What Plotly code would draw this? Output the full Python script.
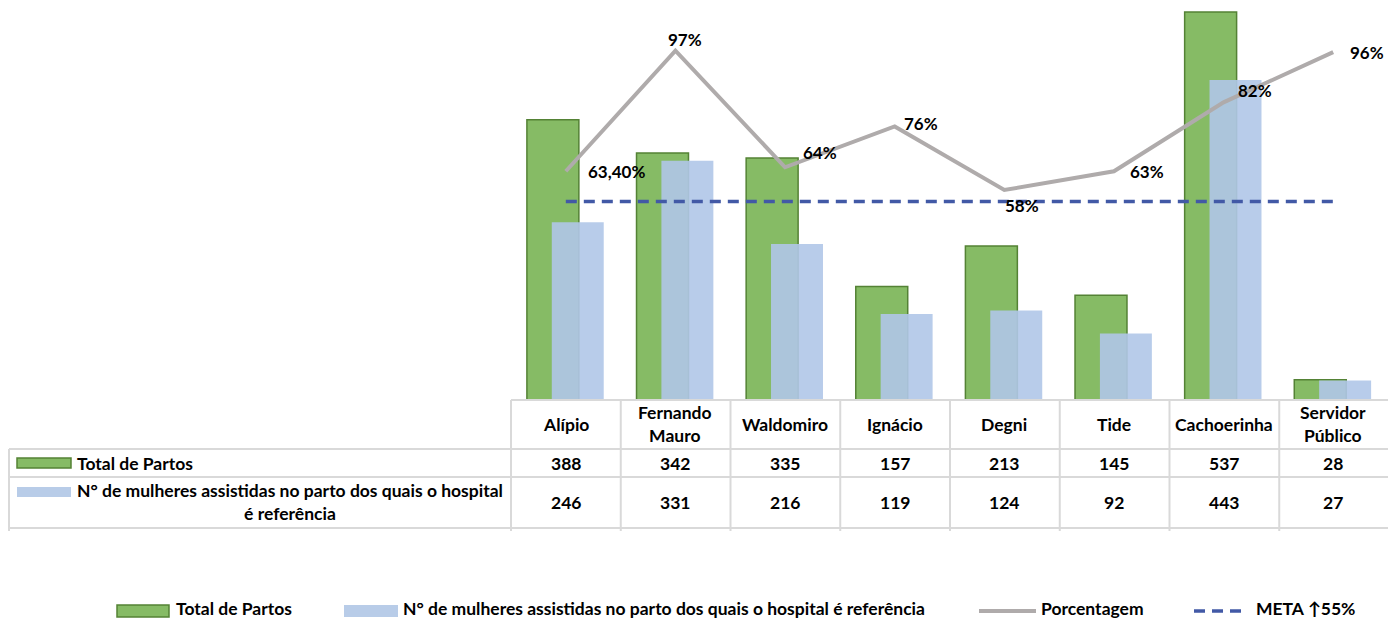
import plotly.graph_objects as go

# ---------------- data ----------------
categories = ["Alípio", "Fernando Mauro", "Waldomiro", "Ignácio", "Degni", "Tide",
              "Cachoerinha", "Servidor Público"]
header_labels = ["Alípio", "Fernando<br>Mauro", "Waldomiro", "Ignácio", "Degni", "Tide",
                 "Cachoerinha", "Servidor<br>Público"]
total_partos = [388, 342, 335, 157, 213, 145, 537, 28]
mulheres_ref = [246, 331, 216, 119, 124, 92, 443, 27]
porcentagem = [0.634, 0.968, 0.645, 0.758, 0.582, 0.634, 0.825, 0.964]
porcentagem_labels = ["63,40%", "97%", "64%", "76%", "58%", "63%", "82%", "96%"]
meta = [0.55] * 8

name_total = "Total de Partos"
name_mulheres = "N° de mulheres assistidas no parto dos quais o hospital é referência"
name_pct = "Porcentagem"
name_meta = "META ↑55%"

# ---------------- styles ----------------
W, H = 1388, 620
GREEN = "rgb(134,187,101)"
GREEN_LINE = "rgb(84,130,53)"
BLUE = "rgba(176,199,232,0.9)"
BLUE_SOLID = "rgb(184,204,232)"
GRAY = "#AFABAB"
META_COLOR = "#4259A6"
GRID = "#D9D9D9"
FONT = "Lato"
FS = 17.5
FS_LAB = 17

PLOT_L, PLOT_R, PLOT_B = 511, 1389, 400


def px(x):
    return x / W


def py(y):
    return 1 - y / H


def bold(size=FS):
    return dict(family=FONT, size=size, color="black", weight="bold")


fig = go.Figure()

fig.add_trace(go.Bar(
    x=list(range(len(categories))), y=total_partos, name=name_total,
    marker=dict(color=GREEN, line=dict(color=GREEN_LINE, width=1.5)),
    width=0.474, offset=-0.355, showlegend=False, hoverinfo="y",
))
fig.add_trace(go.Bar(
    x=list(range(len(categories))), y=mulheres_ref, name=name_mulheres,
    marker=dict(color=BLUE, line=dict(width=0)),
    width=0.474, offset=-0.128, showlegend=False, hoverinfo="y",
))
fig.add_trace(go.Scatter(
    x=list(range(len(categories))), y=porcentagem, name=name_pct, yaxis="y2",
    mode="lines", line=dict(color=GRAY, width=4), showlegend=False,
))
fig.add_trace(go.Scatter(
    x=list(range(len(categories))), y=meta, name=name_meta, yaxis="y2",
    mode="lines", line=dict(color=META_COLOR, width=3.5, dash="11px,7px"),
    showlegend=False,
))

# data labels for the percentage line
label_shift = [(51, 0), (10, 11), (35, 15), (26, 3), (18, -15), (33, 0), (31, 12), (34, 0)]
annotations = []
for i, (lab, val) in enumerate(zip(porcentagem_labels, porcentagem)):
    dx, dy = label_shift[i]
    annotations.append(dict(
        x=i, y=val, xref="x", yref="y2", text=lab, showarrow=False,
        xshift=dx, yshift=dy, font=bold(FS_LAB),
    ))

# ---------------- data table ----------------
shapes = []
row_lines = [449, 477, 528]
col_lines = [511 + i * (PLOT_R - PLOT_L) / 8 for i in range(8)]
shapes.append(dict(type="line", xref="paper", yref="paper",
                   x0=px(PLOT_L), x1=1, y0=py(400), y1=py(400),
                   line=dict(color=GRID, width=2)))
for yl in row_lines:
    shapes.append(dict(type="line", xref="paper", yref="paper",
                       x0=px(9), x1=1, y0=py(yl), y1=py(yl),
                       line=dict(color=GRID, width=2)))
for xl in col_lines:
    shapes.append(dict(type="line", xref="paper", yref="paper",
                       x0=px(xl), x1=px(xl), y0=py(400), y1=py(531),
                       line=dict(color=GRID, width=2)))
shapes.append(dict(type="line", xref="paper", yref="paper",
                   x0=px(9), x1=px(9), y0=py(449), y1=py(531),
                   line=dict(color=GRID, width=2)))

for i, hl in enumerate(header_labels):
    annotations.append(dict(x=i, y=py(424), xref="x", yref="paper", text=hl,
                            showarrow=False, yanchor="middle", font=bold()))
for i, (a, b) in enumerate(zip(total_partos, mulheres_ref)):
    annotations.append(dict(x=i, y=py(463), xref="x", yref="paper", text=str(a),
                            showarrow=False, yanchor="middle", font=bold()))
    annotations.append(dict(x=i, y=py(502), xref="x", yref="paper", text=str(b),
                            showarrow=False, yanchor="middle", font=bold()))

# row headers with keys
shapes.append(dict(type="rect", xref="paper", yref="paper",
                   x0=px(17), x1=px(71), y0=py(468), y1=py(458),
                   fillcolor=GREEN, line=dict(color=GREEN_LINE, width=1.5)))
shapes.append(dict(type="rect", xref="paper", yref="paper",
                   x0=px(17), x1=px(71), y0=py(497), y1=py(487),
                   fillcolor=BLUE_SOLID, line=dict(width=0)))
annotations.append(dict(x=px(75), y=py(463), xref="paper", yref="paper",
                        text=name_total, showarrow=False, xanchor="left", yanchor="middle",
                        font=bold()))
annotations.append(dict(x=px(290), y=py(502), xref="paper", yref="paper",
                        text="N° de mulheres assistidas no parto dos quais o hospital<br>é referência",
                        showarrow=False, xanchor="center", yanchor="middle", align="center",
                        font=bold()))

# ---------------- bottom legend ----------------
LEG_Y = 610
shapes.append(dict(type="rect", xref="paper", yref="paper",
                   x0=px(117), x1=px(169), y0=py(617), y1=py(605),
                   fillcolor=GREEN, line=dict(color=GREEN_LINE, width=1.5)))
shapes.append(dict(type="rect", xref="paper", yref="paper",
                   x0=px(344), x1=px(398), y0=py(617), y1=py(605),
                   fillcolor=BLUE_SOLID, line=dict(width=0)))
shapes.append(dict(type="line", xref="paper", yref="paper",
                   x0=px(979), x1=px(1036), y0=py(611), y1=py(611),
                   line=dict(color=GRAY, width=4)))
shapes.append(dict(type="line", xref="paper", yref="paper",
                   x0=px(1194), x1=px(1243), y0=py(611), y1=py(611),
                   line=dict(color=META_COLOR, width=3.5, dash="11px,7px")))
for xt, txt in [(175, name_total), (402, name_mulheres), (1040, name_pct), (1255, name_meta)]:
    annotations.append(dict(x=px(xt), y=py(620), xref="paper", yref="paper",
                            text=txt, showarrow=False, xanchor="left", yanchor="bottom",
                            borderpad=0, font=bold()))

fig.update_layout(
    width=W, height=H,
    margin=dict(l=0, r=0, t=0, b=0),
    paper_bgcolor="white", plot_bgcolor="white",
    barmode="overlay",
    showlegend=False,
    font=dict(family=FONT, size=FS, color="black"),
    xaxis=dict(domain=[px(PLOT_L), 1], range=[-0.5, 7.5], showticklabels=False,
               showgrid=False, zeroline=False, showline=False, ticks=""),
    yaxis=dict(domain=[py(PLOT_B), 1], range=[0, 553.6], visible=False,
               showgrid=False, zeroline=False),
    yaxis2=dict(overlaying="y", side="right", range=[0, 1.1086], visible=False,
                showgrid=False, zeroline=False),
    shapes=shapes,
    annotations=annotations,
)

fig.write_html(
    "out.html",
    config={"displayModeBar": False},
    post_script="document.body.style.margin='0px';document.body.style.overflow='hidden';",
)
